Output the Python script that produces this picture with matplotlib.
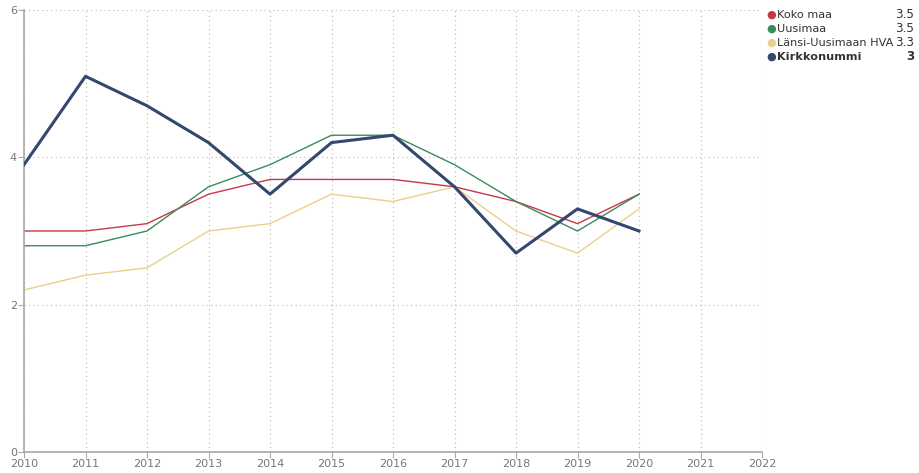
import matplotlib.pyplot as plt

years = [2010, 2011, 2012, 2013, 2014, 2015, 2016, 2017, 2018, 2019, 2020]
koko_maa = [3.0, 3.0, 3.1, 3.5, 3.7, 3.7, 3.7, 3.6, 3.4, 3.1, 3.5]
uusimaa = [2.8, 2.8, 3.0, 3.6, 3.9, 4.3, 4.3, 3.9, 3.4, 3.0, 3.5]
lansi_uusimaa = [2.2, 2.4, 2.5, 3.0, 3.1, 3.5, 3.4, 3.6, 3.0, 2.7, 3.3]
kirkkonummi = [3.9, 5.1, 4.7, 4.2, 3.5, 4.2, 4.3, 3.6, 2.7, 3.3, 3.0]

names = ['Koko maa', 'Uusimaa', 'Länsi-Uusimaan HVA', 'Kirkkonummi']
latest = ['3.5', '3.5', '3.3', '3']
colors = ['#c8364a', '#3a8c5c', '#e9d08c', '#34476e']
widths = [1.0, 1.0, 1.0, 2.2]

fig = plt.figure(figsize=(9.19, 4.73), dpi=100)
ax = fig.add_axes([24 / 919, 21 / 473, 738 / 919, 442 / 473])

series = [koko_maa, uusimaa, lansi_uusimaa, kirkkonummi]
for vals, c, w in zip(series, colors, widths):
    ax.plot(years, vals, color=c, lw=w, zorder=3 if w > 2 else 2)

ax.set_xlim(2010, 2022)
ax.set_ylim(0, 6)
ax.set_xticks(range(2010, 2023))
ax.set_yticks([0, 2, 4, 6])
ax.grid(True, linestyle=(0, (1, 3)), color='#b8b8b8', lw=0.8)
for s in ['top', 'right']:
    ax.spines[s].set_visible(False)
for s in ['left', 'bottom']:
    ax.spines[s].set_color('#a8a8a8')
    ax.spines[s].set_linewidth(1.2)
ax.tick_params(colors='#a8a8a8', labelcolor='#777777', labelsize=8, length=4, pad=1)

# legend on the right
ly = [15, 29, 43, 57]
for name, val, c, y in zip(names, latest, colors, ly):
    yf = 1 - y / 473
    bold = 'bold' if name == 'Kirkkonummi' else 'normal'
    fig.text(771 / 919, yf, '\u25CF', color=c, fontsize=8, ha='center', va='center')
    fig.text(777 / 919, yf, name, color='#333333', fontsize=8.1, ha='left', va='center', weight=bold)
    fig.text(914 / 919, yf, val, color='#333333', fontsize=8.6, ha='right', va='center', weight=bold)

fig.savefig('out.png', dpi=100, facecolor='white')
